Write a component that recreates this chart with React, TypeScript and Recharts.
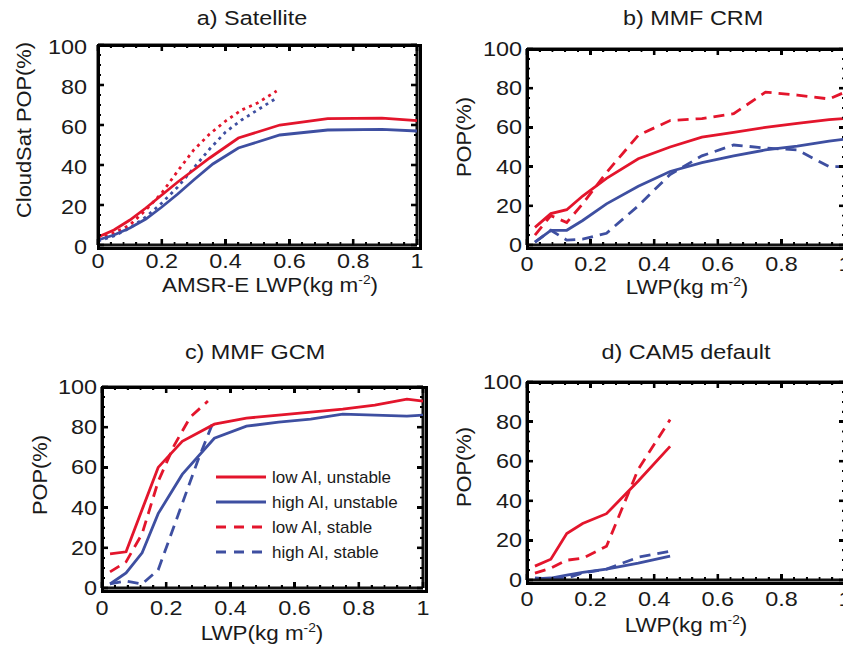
import React from "react";
import { LineChart, Line, XAxis, YAxis, ReferenceLine } from "recharts";

const RED = "#E3152C";
const BLUE = "#3E4FA1";
const INK = "#1a1a1a";
const FRAME = "#111111";
const FONT = "'Liberation Sans', Arial, Helvetica, sans-serif";

// ---- axes / labels ----
const X_MAJOR = [0, 0.2, 0.4, 0.6, 0.8, 1];
const Y_MAJOR = [0, 20, 40, 60, 80, 100];
const X_SUBDIV = 5;
const Y_SUBDIV = 4;
const PANEL_TITLES = ["a) Satellite", "b) MMF CRM", "c) MMF GCM", "d) CAM5 default"];
const X_TITLES = ["AMSR-E LWP(kg m", "LWP(kg m", "LWP(kg m", "LWP(kg m"];
const Y_TITLES = ["CloudSat POP(%)", "POP(%)", "POP(%)", "POP(%)"];
const SERIES_NAMES = ["low AI, unstable", "high AI, unstable", "low AI, stable", "high AI, stable"];

// ---- data: [LWP, POP] ----
const SAT_LOW_UNSTABLE = [[0, 4], [0.05, 7.5], [0.1, 12.5], [0.15, 18.5], [0.2, 25], [0.25, 31.5], [0.3, 37.5], [0.35, 43.5], [0.44, 53.5], [0.57, 60], [0.72, 63.2], [0.89, 63.4], [1, 62.2]];
const SAT_HIGH_UNSTABLE = [[0, 2.5], [0.05, 5], [0.1, 8.5], [0.15, 13], [0.2, 19], [0.25, 25.5], [0.3, 32.5], [0.36, 40.5], [0.44, 48.5], [0.57, 55], [0.72, 57.5], [0.89, 57.8], [1, 57]];
const SAT_LOW_STABLE = [[0, 3], [0.05, 6], [0.1, 10], [0.15, 17.5], [0.2, 26], [0.25, 37], [0.3, 47.5], [0.35, 55.5], [0.4, 62], [0.45, 67.5], [0.5, 71], [0.56, 77]];
const SAT_HIGH_STABLE = [[0, 2], [0.05, 4.5], [0.1, 8.5], [0.15, 14], [0.2, 21], [0.25, 29], [0.3, 38.5], [0.35, 48], [0.4, 56.5], [0.45, 62.5], [0.5, 67.5], [0.56, 73.5]];

const CRM_LOW_UNSTABLE = [[0.025, 9], [0.075, 16], [0.125, 18], [0.175, 25], [0.25, 34], [0.35, 44], [0.45, 50], [0.55, 55], [0.65, 57.5], [0.75, 60], [0.85, 62], [0.95, 64], [1, 64.5]];
const CRM_HIGH_UNSTABLE = [[0.025, 1.5], [0.075, 7.5], [0.125, 7.5], [0.175, 12.5], [0.25, 21], [0.35, 30], [0.45, 37.5], [0.55, 42], [0.65, 45.5], [0.75, 48.5], [0.85, 50.5], [0.95, 53], [1, 54]];
const CRM_LOW_STABLE = [[0.025, 5], [0.075, 15], [0.125, 11.5], [0.175, 21], [0.25, 37], [0.35, 56], [0.45, 63.5], [0.55, 64.5], [0.65, 67], [0.75, 78], [0.85, 76.5], [0.95, 74.5], [1, 78]];
const CRM_HIGH_STABLE = [[0.025, 1.5], [0.075, 7.5], [0.125, 2.5], [0.175, 3], [0.25, 6], [0.35, 20], [0.45, 36], [0.55, 45.5], [0.65, 51], [0.75, 49.5], [0.85, 48.5], [0.95, 40], [1, 40]];

const GCM_LOW_UNSTABLE = [[0.025, 17], [0.075, 18], [0.125, 39], [0.175, 60], [0.25, 73], [0.35, 81.5], [0.45, 84.5], [0.55, 86], [0.65, 87.5], [0.75, 89], [0.85, 91], [0.95, 94], [1, 93]];
const GCM_HIGH_UNSTABLE = [[0.025, 2], [0.075, 7.5], [0.125, 17.5], [0.175, 37], [0.25, 56.5], [0.35, 74.5], [0.45, 80.5], [0.55, 82.5], [0.65, 84], [0.75, 86.5], [0.85, 86], [0.95, 85.5], [1, 86]];
const GCM_LOW_STABLE = [[0.025, 8], [0.075, 13], [0.125, 27], [0.175, 53], [0.225, 71], [0.275, 85], [0.33, 93]];
const GCM_HIGH_STABLE = [[0.025, 2], [0.075, 3.5], [0.125, 2], [0.175, 9], [0.25, 42], [0.3, 64], [0.35, 84]];

const CAM_LOW_UNSTABLE = [[0.025, 7], [0.075, 10.5], [0.125, 23.5], [0.175, 28.5], [0.25, 33.5], [0.35, 50], [0.45, 67.5]];
const CAM_HIGH_UNSTABLE = [[0.025, 0.5], [0.075, 1], [0.125, 2.5], [0.175, 3.8], [0.25, 5.5], [0.35, 8.5], [0.45, 12]];
const CAM_LOW_STABLE = [[0.025, 3.5], [0.075, 6], [0.125, 10], [0.175, 11], [0.25, 17], [0.35, 56], [0.45, 81]];
const CAM_HIGH_STABLE = [[0.025, 1], [0.075, 0.5], [0.125, 1], [0.175, 3.5], [0.25, 5.5], [0.35, 11.5], [0.45, 14.5]];

const PANEL_SERIES = [
  [SAT_LOW_UNSTABLE, SAT_HIGH_UNSTABLE, SAT_LOW_STABLE, SAT_HIGH_STABLE],
  [CRM_LOW_UNSTABLE, CRM_HIGH_UNSTABLE, CRM_LOW_STABLE, CRM_HIGH_STABLE],
  [GCM_LOW_UNSTABLE, GCM_HIGH_UNSTABLE, GCM_LOW_STABLE, GCM_HIGH_STABLE],
  [CAM_LOW_UNSTABLE, CAM_HIGH_UNSTABLE, CAM_LOW_STABLE, CAM_HIGH_STABLE],
];

// ---- layout ----
type Cfg = {
  divLeft: number; divTop: number; divW: number; divH: number;
  plotL: number; plotT: number; plotW: number; plotH: number;
  xLabDy: number; yLabGap: number; yLabDy: number; dotted: boolean;
  title: [number, number]; xTitle: [number, number]; yTitle: [number, number];
};
const Y_AXIS_W = 60;
const X_AXIS_H = 30;
const PANELS: Cfg[] = [
  { divLeft: 0, divTop: 30, divW: 431, divH: 261, plotL: 98, plotT: 45, plotW: 319, plotH: 200, xLabDy: 23, yLabGap: 11, yLabDy: 9, dotted: true, title: [252, 25], xTitle: [270, 292], yTitle: [31, 130] },
  { divLeft: 430, divTop: 30, divW: 433, divH: 263, plotL: 527, plotT: 49, plotW: 318, plotH: 196, xLabDy: 26, yLabGap: 5, yLabDy: 7, dotted: false, title: [693, 25], xTitle: [687, 294], yTitle: [471, 137] },
  { divLeft: 0, divTop: 370, divW: 440, divH: 270, plotL: 102, plotT: 387, plotW: 321, plotH: 201, xLabDy: 27, yLabGap: 5, yLabDy: 7, dotted: false, title: [255, 359], xTitle: [262, 640], yTitle: [47, 475] },
  { divLeft: 430, divTop: 368, divW: 437, divH: 267, plotL: 527, plotT: 382, plotW: 318, plotH: 198, xLabDy: 26, yLabGap: 5, yLabDy: 7, dotted: false, title: [686, 359], xTitle: [686, 632], yTitle: [471, 467] },
];

const subdivide = (major: number[], n: number) => {
  const out: number[] = [major[0]];
  for (let i = 1; i < major.length; i++) {
    for (let k = 1; k <= n; k++) {
      out.push(Math.round((major[i - 1] + ((major[i] - major[i - 1]) * k) / n) * 1e6) / 1e6);
    }
  }
  return out;
};
const X_TICKS = subdivide(X_MAJOR, X_SUBDIV);
const Y_TICKS = subdivide(Y_MAJOR, Y_SUBDIV);
const isMajor = (arr: number[], v: number) => arr.some((m) => Math.abs(m - v) < 1e-6);

const TICK_FS = 19.5;
const SX = 1.2;

function renderXTick(p: any, cfg: Cfg) {
  const x = Number(p.x);
  const y = Number(p.y);
  const v = p.payload.value;
  const major = isMajor(X_MAJOR, v);
  const len = major ? 6 : 3;
  const sw = major ? 2.6 : 1.8;
  return (
    <g>
      <line x1={x} y1={y} x2={x} y2={y - len} stroke={FRAME} strokeWidth={sw} />
      <line x1={x} y1={y - cfg.plotH} x2={x} y2={y - cfg.plotH + len} stroke={FRAME} strokeWidth={sw} />
      {major && (
        <text x={0} y={0} transform={`translate(${x},${y + cfg.xLabDy}) scale(${SX},1)`} textAnchor="middle" fontSize={TICK_FS} fontFamily={FONT} fill={INK}>
          {String(v)}
        </text>
      )}
    </g>
  );
}

function renderYTick(p: any, cfg: Cfg) {
  const x = Number(p.x);
  const y = Number(p.y);
  const v = p.payload.value;
  const major = isMajor(Y_MAJOR, v);
  const len = major ? 6 : 3;
  const sw = major ? 2.6 : 1.8;
  return (
    <g>
      <line x1={x} y1={y} x2={x + len} y2={y} stroke={FRAME} strokeWidth={sw} />
      <line x1={x + cfg.plotW} y1={y} x2={x + cfg.plotW - len} y2={y} stroke={FRAME} strokeWidth={sw} />
      {major && (
        <text x={0} y={0} transform={`translate(${x - cfg.yLabGap},${y + cfg.yLabDy}) scale(${SX},1)`} textAnchor="end" fontSize={TICK_FS} fontFamily={FONT} fill={INK}>
          {String(v)}
        </text>
      )}
    </g>
  );
}

const styleFor = (i: number, dotted: boolean) => {
  const color = i % 2 === 0 ? RED : BLUE;
  const dash = i < 2 ? undefined : dotted ? "3 4.3" : "11 7";
  return { color, dash };
};

function Panel({ cfg, series }: { cfg: Cfg; series: number[][][] }) {
  const margin = {
    top: cfg.plotT - cfg.divTop,
    left: cfg.plotL - cfg.divLeft - Y_AXIS_W,
    right: cfg.divLeft + cfg.divW - cfg.plotL - cfg.plotW,
    bottom: cfg.divTop + cfg.divH - cfg.plotT - cfg.plotH - X_AXIS_H,
  };
  return (
    <div style={{ position: "absolute", left: cfg.divLeft, top: cfg.divTop }}>
      <LineChart width={cfg.divW} height={cfg.divH} margin={margin}>
        <XAxis
          type="number"
          dataKey="x"
          domain={[0, 1]}
          ticks={X_TICKS}
          interval={0}
          axisLine={{ stroke: FRAME, strokeWidth: 3 }}
          tickLine={false}
          tickSize={0}
          tickMargin={0}
          height={X_AXIS_H}
          tick={(p: any) => renderXTick(p, cfg)}
        />
        <YAxis
          type="number"
          domain={[0, 100]}
          ticks={Y_TICKS}
          interval={0}
          axisLine={{ stroke: FRAME, strokeWidth: 3 }}
          tickLine={false}
          tickSize={0}
          tickMargin={0}
          width={Y_AXIS_W}
          tick={(p: any) => renderYTick(p, cfg)}
        />
        <ReferenceLine x={1} stroke={FRAME} strokeWidth={3} ifOverflow="visible" />
        <ReferenceLine y={100} stroke={FRAME} strokeWidth={3} ifOverflow="visible" />
        {series
          .map((pts, i) => ({ pts, i }))
          .reverse()
          .map(({ pts, i }) => {
            const st = styleFor(i, cfg.dotted);
            return (
              <Line
                key={i}
                data={pts.map(([x, y]) => ({ x, y }))}
                dataKey="y"
                type="linear"
                stroke={st.color}
                strokeWidth={2.8}
                strokeDasharray={st.dash}
                strokeLinecap="butt"
                dot={false}
                activeDot={false}
                isAnimationActive={false}
              />
            );
          })}
      </LineChart>
    </div>
  );
}

// HTML box + inward ticks, laid over each plot area with the same linear mapping
function BoxFrame({ cfg }: { cfg: Cfg }) {
  const sx = (v: number) => cfg.plotL + v * cfg.plotW;
  const sy = (v: number) => cfg.plotT + cfg.plotH - (v / 100) * cfg.plotH;
  const bottom = cfg.plotT + cfg.plotH;
  const right = cfg.plotL + cfg.plotW;
  const marks: React.ReactNode[] = [];
  X_TICKS.forEach((v, i) => {
    const major = isMajor(X_MAJOR, v);
    const len = major ? 6 : 3;
    const sw = major ? 2.6 : 1.8;
    const x = sx(v);
    marks.push(<div key={`xb${i}`} style={{ position: "absolute", left: x - sw / 2, top: bottom - len, width: sw, height: len, background: "#000" }} />);
    marks.push(<div key={`xt${i}`} style={{ position: "absolute", left: x - sw / 2, top: cfg.plotT, width: sw, height: len, background: "#000" }} />);
  });
  Y_TICKS.forEach((v, i) => {
    const major = isMajor(Y_MAJOR, v);
    const len = major ? 6 : 3;
    const sw = major ? 2.6 : 1.8;
    const y = sy(v);
    marks.push(<div key={`yl${i}`} style={{ position: "absolute", left: cfg.plotL, top: y - sw / 2, width: len, height: sw, background: "#000" }} />);
    marks.push(<div key={`yr${i}`} style={{ position: "absolute", left: right - len, top: y - sw / 2, width: len, height: sw, background: "#000" }} />);
  });
  return (
    <>
      <div
        style={{
          position: "absolute",
          left: cfg.plotL - 1.5,
          top: cfg.plotT - 1.5,
          width: cfg.plotW,
          height: cfg.plotH,
          border: "3px solid #000",
          boxSizing: "content-box",
          pointerEvents: "none",
        }}
      />
      {marks}
    </>
  );
}

const LEGEND = { x1: 216, x2: 266, y0: 477, dy: 25, textX: 272, fs: 17 };

export default function App() {
  return (
    <div style={{ position: "absolute", left: 0, top: 0, width: 843, height: 650, overflow: "hidden", background: "#fff" }}>
      {PANELS.map((cfg, k) => (
        <Panel key={k} cfg={cfg} series={PANEL_SERIES[k]} />
      ))}
      {PANELS.map((cfg, k) => (
        <BoxFrame key={`b${k}`} cfg={cfg} />
      ))}
      <svg width={843} height={650} style={{ position: "absolute", left: 0, top: 0, pointerEvents: "none" }}>
        {PANELS.map((cfg, k) => (
          <g key={k} fontFamily={FONT} fill={INK}>
            <text x={0} y={0} transform={`translate(${cfg.title[0]},${cfg.title[1]}) scale(${SX},1)`} textAnchor="middle" fontSize={19.5}>
              {PANEL_TITLES[k]}
            </text>
            <text x={0} y={0} transform={`translate(${cfg.xTitle[0]},${cfg.xTitle[1]}) scale(1.15,1)`} textAnchor="middle" fontSize={19.5}>
              {X_TITLES[k]}
              <tspan fontSize={12} dy={-8}>-2</tspan>
              <tspan dy={8}>)</tspan>
            </text>
            <text x={0} y={0} transform={`translate(${cfg.yTitle[0]},${cfg.yTitle[1]}) rotate(-90) scale(1.12,1)`} textAnchor="middle" fontSize={19.5}>
              {Y_TITLES[k]}
            </text>
          </g>
        ))}
        <g fontFamily={FONT} fill={INK}>
          {SERIES_NAMES.map((name, i) => {
            const st = styleFor(i, false);
            const y = LEGEND.y0 + i * LEGEND.dy;
            return (
              <g key={name}>
                <line x1={LEGEND.x1} x2={LEGEND.x2} y1={y} y2={y} stroke={st.color} strokeWidth={3} strokeDasharray={st.dash ? "10 8" : undefined} />
                <text x={LEGEND.textX} y={y + 6} fontSize={LEGEND.fs}>
                  {name}
                </text>
              </g>
            );
          })}
        </g>
      </svg>
    </div>
  );
}
